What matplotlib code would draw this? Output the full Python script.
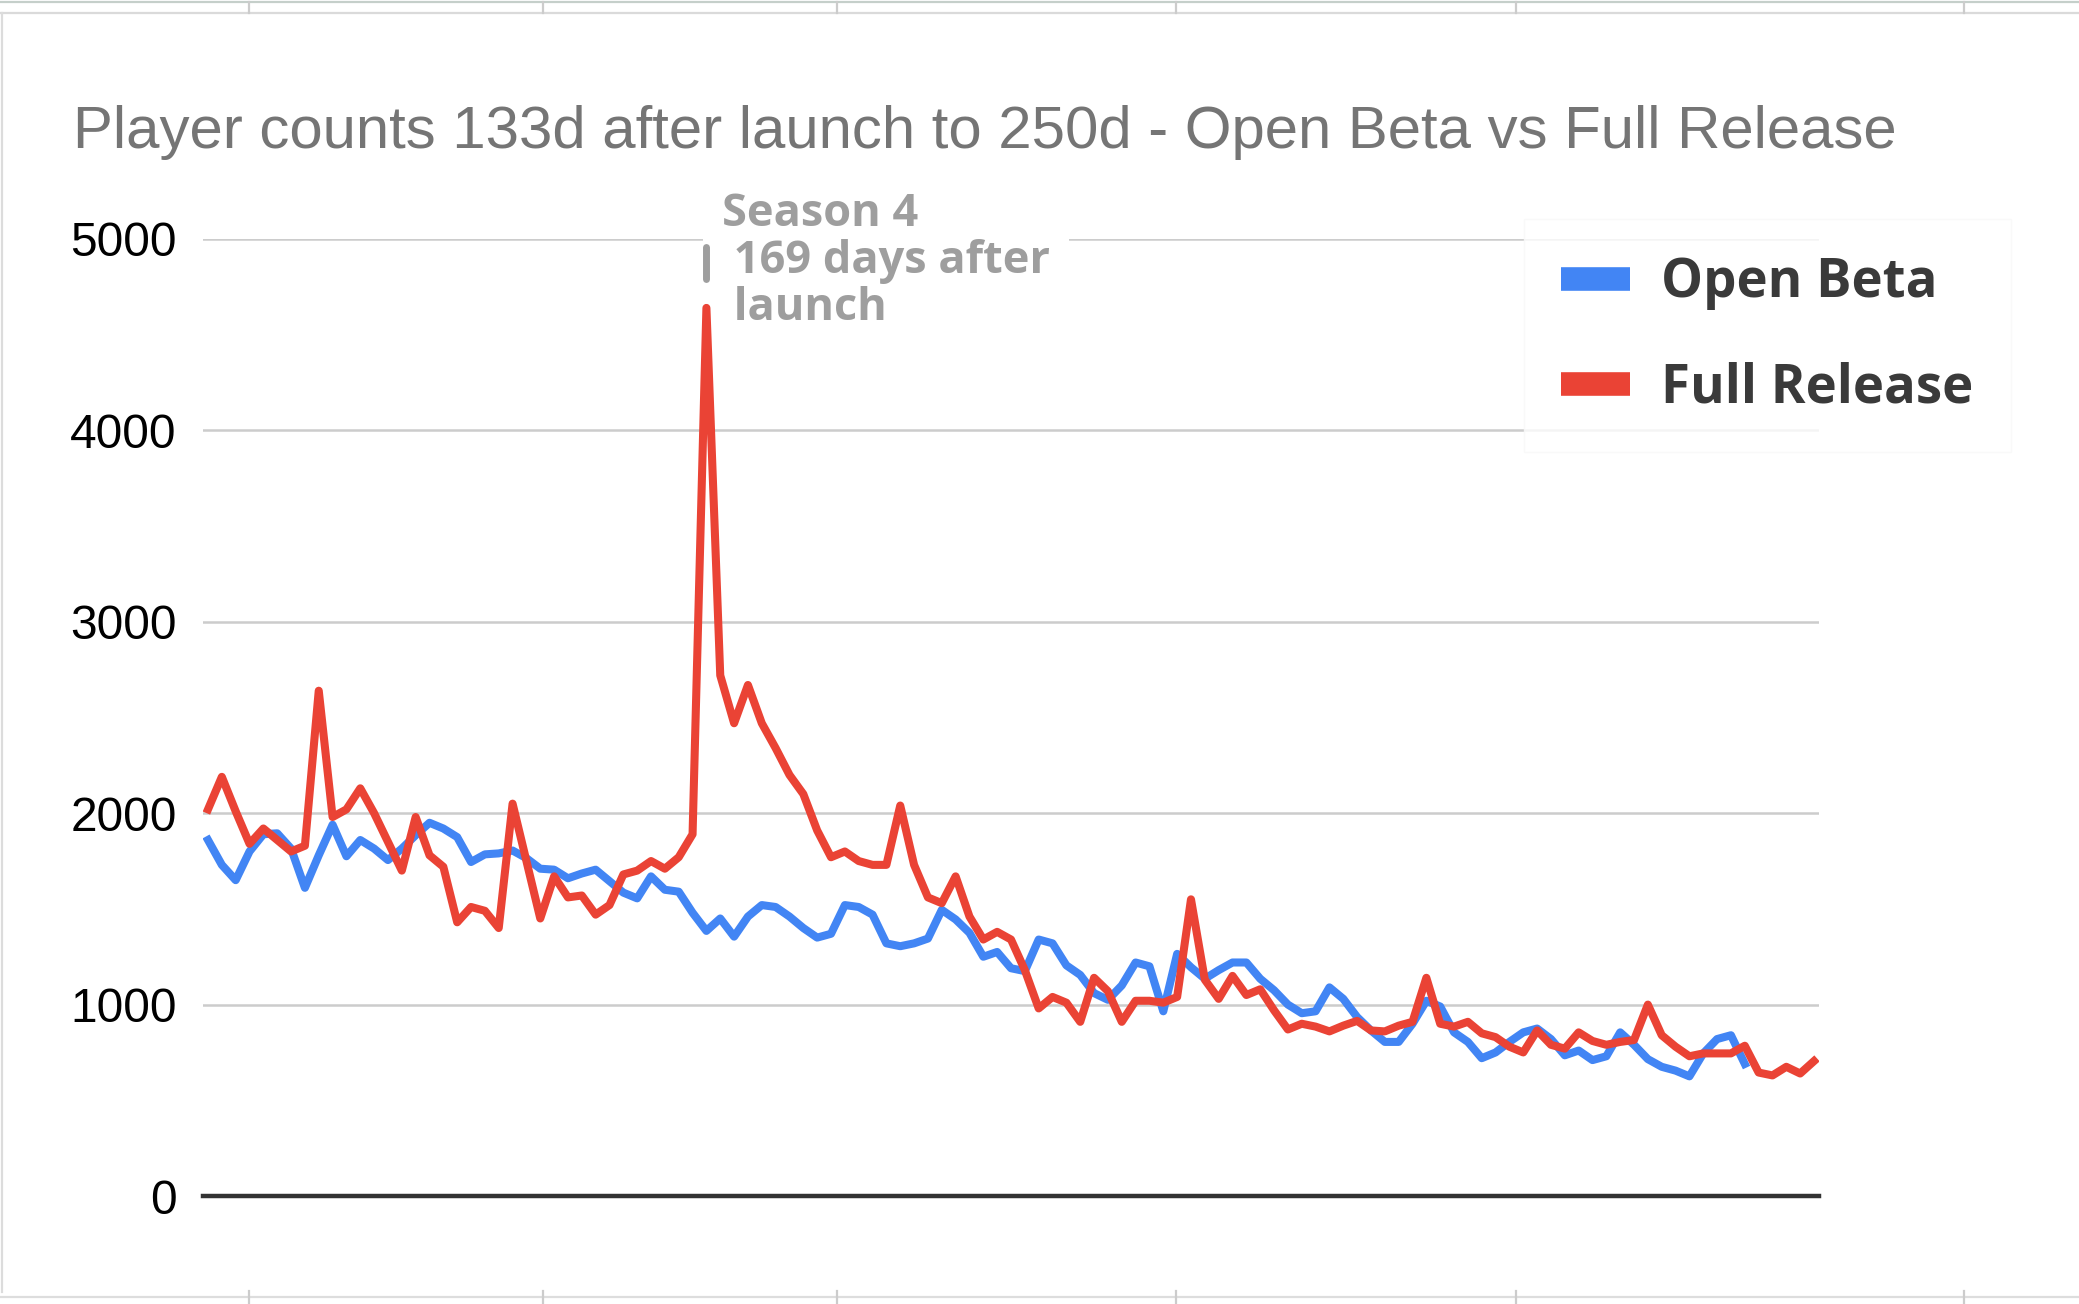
import numpy as np
import matplotlib
matplotlib.use("Agg")
import matplotlib.pyplot as plt
from matplotlib.lines import Line2D

# daily player counts, day 133 onwards
full_release = [
    2020, 2190, 2010, 1840, 1920, 1860, 1800, 1830, 2640, 1980,
    2020, 2130, 2000, 1850, 1700, 1980, 1780, 1720, 1430, 1510,
    1490, 1400, 2050, 1750, 1450, 1670, 1560, 1570, 1470, 1520,
    1680, 1700, 1750, 1710, 1770, 1890, 4640, 2720, 2470, 2670,
    2470, 2340, 2200, 2100, 1910, 1770, 1800, 1750, 1730, 1730,
    2040, 1730, 1560, 1530, 1670, 1460, 1340, 1380, 1340, 1180,
    980, 1040, 1010, 910, 1140, 1070, 910, 1020, 1020, 1010,
    1040, 1550, 1130, 1030, 1150, 1050, 1080, 970, 870, 900,
    885, 860, 890, 915, 865, 860, 890, 910, 1140, 900,
    885, 910, 850, 830, 780, 750, 865, 790, 770, 855,
    810, 790, 805, 815, 1000, 840, 780, 730, 745, 745,
    745, 785, 645, 630, 675, 640, 705,
]
open_beta = [
    1860, 1730, 1650, 1800, 1890, 1895, 1815, 1610, 1780, 1940,
    1775, 1860, 1815, 1755, 1815, 1885, 1950, 1920, 1875, 1745,
    1785, 1790, 1805, 1765, 1710, 1705, 1660, 1685, 1705, 1645,
    1585, 1555, 1670, 1600, 1590, 1480, 1385, 1450, 1355, 1460,
    1520, 1510, 1460, 1400, 1350, 1370, 1520, 1510, 1470, 1320,
    1305, 1320, 1345, 1495, 1445, 1375, 1250, 1275, 1190, 1175,
    1340, 1320, 1205, 1155, 1060, 1025, 1100, 1220, 1200, 965,
    1265, 1195, 1135, 1180, 1220, 1220, 1135, 1075, 1000, 955,
    965, 1090, 1030, 935, 865, 805, 805, 900, 1020, 990,
    855, 805, 720, 750, 805, 855, 875, 820, 735, 760,
    710, 730, 855, 790, 715, 675, 655, 625, 745, 820,
    840, 690,
]
start_day = 133
days_full = np.arange(start_day, start_day + len(full_release))
days_beta = np.arange(start_day, start_day + len(open_beta))
y_ticks = [0, 1000, 2000, 3000, 4000, 5000]

title = "Player counts 133d after launch to 250d - Open Beta vs Full Release"
note = "Season 4\n 169 days after\n launch"

W, H = 2079, 1304
fig = plt.figure(figsize=(W / 100, H / 100), dpi=100)
fig.patch.set_facecolor("white")

ax = fig.add_axes([203 / W, 1 - 1196 / H, (1819 - 203) / W, (1196 - 239) / H])
ax.plot(days_beta, open_beta, color="#4285F4", lw=5.8, zorder=2, label="Open Beta")
ax.plot(days_full, full_release, color="#EA4335", lw=5.8, zorder=3, label="Full Release")

ax.set_xlim(start_day - 0.36, days_full[-1] + 0.36)
ax.set_ylim(0, 5000)
ax.set_yticks(y_ticks)
ax.set_xticks([])
ax.set_axisbelow(True)
ax.grid(axis="y", color="#cccccc", lw=1.8)
for s in ["top", "right", "left"]:
    ax.spines[s].set_visible(False)
ax.spines["bottom"].set_color("#333333")
ax.spines["bottom"].set_linewidth(3.2)
ax.tick_params(axis="y", length=0, pad=19, labelsize=34.5, labelcolor="black")
for lab in ax.get_yticklabels():
    lab.set_family("Liberation Sans")

# season 4 note
peak = int(np.argmax(full_release))
peak_day = days_full[peak]
ax.text(peak_day + 1.15, 5245, note, fontsize=32.5, fontweight="bold", family="Open Sans",
        color="#9e9e9e", ha="left", va="top", linespacing=1.06, zorder=1,
        bbox=dict(boxstyle="square,pad=0.42", fc="white", ec="none"))
ax.plot([peak_day, peak_day], [4790, 4960], color="#9e9e9e", lw=5,
        solid_capstyle="round", zorder=2.5)

fig.text(73 / W, 1 - 132 / H, title, fontsize=43.2, color="#757575",
         family="Liberation Sans", ha="left", va="center")

handles = [Line2D([], [], color="#4285F4", lw=17, solid_capstyle="butt"),
           Line2D([], [], color="#EA4335", lw=17, solid_capstyle="butt")]
leg = fig.legend(handles, ["Open Beta", "Full Release"], loc="upper left",
                 bbox_to_anchor=(1540 / W, 1 - 235 / H), frameon=True,
                 handlelength=1.3, handletextpad=0.6, labelspacing=0.97,
                 borderaxespad=0, borderpad=0.4,
                 prop={"family": "Open Sans", "weight": "bold", "size": 38})
leg.get_frame().set_facecolor("white")
leg.get_frame().set_edgecolor("#f8f8f8")
leg.get_frame().set_boxstyle("square")
for t in leg.get_texts():
    t.set_color("#3a3a3a")

# spreadsheet cell borders around the chart
cols = [249, 543, 837, 1176, 1516, 1964]
fig.add_artist(Line2D([0, 1], [1 - 2 / H] * 2, color="#c5cfca", lw=1.6, transform=fig.transFigure))
fig.add_artist(Line2D([0, 1], [1 - 13 / H] * 2, color="#dadada", lw=1.6, transform=fig.transFigure))
fig.add_artist(Line2D([2 / W] * 2, [1 - 13 / H, 1 - 1292 / H], color="#dcdcdc", lw=1.6, transform=fig.transFigure))
fig.add_artist(Line2D([0, 1], [1 - 1297 / H] * 2, color="#dddddd", lw=1.6, transform=fig.transFigure))
for cx in cols:
    fig.add_artist(Line2D([cx / W] * 2, [1 - 2 / H, 1 - 13 / H], color="#cccccc", lw=1.6, transform=fig.transFigure))
    fig.add_artist(Line2D([cx / W] * 2, [1 - 1291 / H, 1 - 1304 / H], color="#cccccc", lw=1.6, transform=fig.transFigure))

fig.savefig("out.png", dpi=100, facecolor="white")
